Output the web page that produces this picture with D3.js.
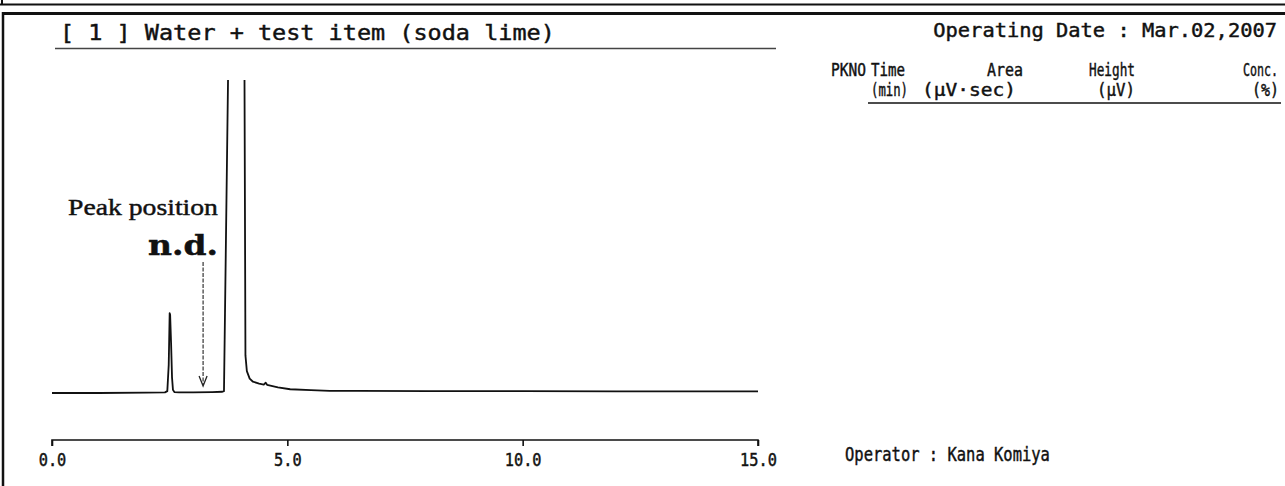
<!DOCTYPE html>
<html>
<head>
<meta charset="utf-8">
<script src="https://cdn.jsdelivr.net/npm/d3@7"></script>
<style>
  html, body { margin: 0; padding: 0; background: #fff; }
  svg { display: block; }
  .mono { font-family: "DejaVu Sans Mono", "Liberation Mono", monospace; fill: #111; stroke: #111; stroke-width: 0.45px; }
</style>
</head>
<body>
<svg id="chart" width="1285" height="486"></svg>
<script>
// Chromatogram trace: retention time (min) and detector response (relative units)
const timeMin = [0.0, 1.0, 2.0, 2.40, 2.45, 2.48, 2.50, 2.51, 2.53, 2.55, 2.57, 2.60, 2.70, 3.00, 3.40, 3.62, 3.654,
                 3.74, 3.80, 3.95, 4.05, 4.09, 4.11, 4.14, 4.20, 4.27, 4.40, 4.50, 4.54, 4.57, 4.80, 5.06, 5.50, 5.90,
                 6.50, 8.00, 10.0, 12.0, 15.0];
const signal  = [0.0, 0.0, 0.1, 0.2, 0.6, 9.0, 25.5, 25.0, 16.0, 5.0, 1.0, 0.3, 0.2, 0.2, 0.3, 0.4, 0.6,
                 100, 400, 600, 400, 100, 12.0, 7.0, 4.6, 3.6, 3.0, 2.7, 3.3, 2.6, 1.8, 1.2, 0.9, 0.7,
                 0.7, 0.6, 0.6, 0.5, 0.5];

// Axis ticks
const tickValues = [0, 5, 10, 15];
const tickLabels = ["0.0", "5.0", "10.0", "15.0"];

// Annotated (not detected) peak position
const ndTime = 3.21;

// Peak table header
const headerRow1 = ["PKNO", "Time", "Area", "Height", "Conc."];
const headerRow2 = ["", "(min)", "(\u03bcV\u00b7sec)", "(\u03bcV)", "(%)"];

const svg = d3.select("#chart");

const x = d3.scaleLinear().domain([0, 15]).range([52, 758]);
const y = d3.scaleLinear().domain([0, 100]).range([393, 80]);

// helper: text placed at (xPos, yPos) and scaled horizontally to a given width
function label(str, xPos, yPos, size, width, anchor, cls, extra) {
  const t = svg.append("text")
    .attr("class", cls || "mono")
    .attr("x", 0).attr("y", 0)
    .attr("font-size", size)
    .attr("text-anchor", anchor || "start")
    .text(str);
  if (extra) extra(t);
  let sx = 1;
  if (width) {
    const w = t.node().getComputedTextLength();
    if (w > 0) sx = width / w;
  }
  t.attr("transform", `translate(${xPos},${yPos}) scale(${sx},1)`);
  return t;
}

// page frame
svg.append("line").attr("x1", 0).attr("x2", 1285).attr("y1", 4.5).attr("y2", 4.5)
  .attr("stroke", "#111").attr("stroke-width", 2);
svg.append("line").attr("x1", 2).attr("x2", 2).attr("y1", 0).attr("y2", 5)
  .attr("stroke", "#111").attr("stroke-width", 2);
svg.append("line").attr("x1", 2).attr("x2", 1285).attr("y1", 13.5).attr("y2", 13.5)
  .attr("stroke", "#111").attr("stroke-width", 3);
svg.append("line").attr("x1", 3).attr("x2", 3).attr("y1", 12).attr("y2", 486)
  .attr("stroke", "#111").attr("stroke-width", 2.5);

// title + underline
label("[ 1 ] Water + test item (soda lime)", 60, 40, 22, 495);
svg.append("line").attr("x1", 55).attr("x2", 776).attr("y1", 48.5).attr("y2", 48.5)
  .attr("stroke", "#444").attr("stroke-width", 1.3);

// header info
label("Operating Date : Mar.02,2007", 1277, 37, 20, 344, "end");

// peak table column headings (left-aligned columns, last column right-aligned)
const col1X = [831, 871, 987, 1089, 1278];
const col1W = [35, 34, 36, 46, 35];
const colAnchor = ["start", "start", "start", "start", "end"];
headerRow1.forEach((s, i) => label(s, col1X[i], 76, 18, col1W[i], colAnchor[i]));
const col2X = [0, 871, 922, 1097, 1279];
const col2W = [0, 37, 94, 38, 27];
headerRow2.forEach((s, i) => { if (s) label(s, col2X[i], 96, 18, col2W[i], colAnchor[i]); });
svg.append("line").attr("x1", 868).attr("x2", 1281).attr("y1", 103).attr("y2", 103)
  .attr("stroke", "#111").attr("stroke-width", 1.5);

// chromatogram trace, clipped at the plot top
svg.append("clipPath").attr("id", "plotClip")
  .append("rect").attr("x", 40).attr("y", y(100)).attr("width", 740).attr("height", 380);

const pts = timeMin.map((t, i) => [t, signal[i]]);
svg.append("path")
  .datum(pts)
  .attr("clip-path", "url(#plotClip)")
  .attr("fill", "none")
  .attr("stroke", "#111")
  .attr("stroke-width", 1.8)
  .attr("stroke-linejoin", "round")
  .attr("d", d3.line().x(d => x(d[0])).y(d => y(d[1])));

// time axis: line with downward ticks
const axisY = 440;
const axis = d3.axisBottom(x).tickValues(tickValues).tickSize(6)
  .tickFormat((d, i) => tickLabels[i]);
const gAxis = svg.append("g").attr("transform", `translate(0,${axisY})`).call(axis);
gAxis.select(".domain").attr("d", `M${x(0)},6V0H${x(15)}V6`).attr("stroke", "#111").attr("stroke-width", 1.6);
gAxis.selectAll(".tick line").attr("stroke", "#111").attr("stroke-width", 1.6);
gAxis.selectAll(".tick text")
  .attr("class", "mono")
  .attr("font-size", 17)
  .attr("y", 14)
  .attr("dy", "0.71em")
  .attr("textLength", (d, i) => tickLabels[i].length * 9.2)
  .attr("lengthAdjust", "spacingAndGlyphs");
gAxis.attr("font-family", null);

// annotation: peak position n.d.
label("Peak position", 68, 215, 24, 150, "start", null, t => t.attr("style", "font-family:'Liberation Serif','DejaVu Serif',serif;fill:#111"));
label("n.d.", 218, 255, 27, 70, "end", null, t => t.attr("style", "font-family:'DejaVu Serif','Liberation Serif',serif;font-weight:bold;fill:#111"));

const ax = x(ndTime);
svg.append("line").attr("x1", ax).attr("x2", ax).attr("y1", 262).attr("y2", 385)
  .attr("stroke", "#222").attr("stroke-width", 1.1).attr("stroke-dasharray", "4,1.5");
svg.append("path")
  .attr("d", `M${ax - 4},${376}L${ax},${386}L${ax + 4},${376}`)
  .attr("fill", "none").attr("stroke", "#222").attr("stroke-width", 1.3);

// operator
label("Operator : Kana Komiya", 845, 461, 20, 205);
</script>
</body>
</html>
